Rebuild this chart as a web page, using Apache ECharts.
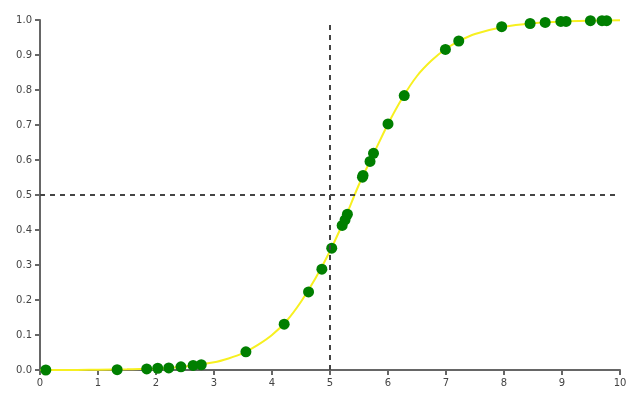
<!DOCTYPE html>
<html>
<head>
<meta charset="utf-8">
<script src="https://cdn.jsdelivr.net/npm/echarts@6/dist/echarts.min.js"></script>
<style>html,body{margin:0;padding:0;background:#fff}#c{width:640px;height:400px}</style>
</head>
<body>
<div id="c"></div>
<script>
// Fitted curve
const curveX = [0, 0.5, 1, 1.5, 2, 2.5, 3, 3.25, 3.5, 3.75, 4, 4.25, 4.5, 4.75, 5, 5.25, 5.5, 5.75, 6, 6.25, 6.5, 6.75, 7, 7.25, 7.5, 8, 8.5, 9, 9.5, 10];
const curveY = [0.000, 0.000, 0.001, 0.002, 0.004, 0.010, 0.022, 0.033, 0.048, 0.071, 0.100, 0.140, 0.195, 0.262, 0.340, 0.430, 0.530, 0.617, 0.703, 0.778, 0.840, 0.884, 0.918, 0.942, 0.960, 0.981, 0.991, 0.996, 0.998, 0.999];
// Observed points
const pointX = [0.10, 1.33, 1.84, 2.03, 2.22, 2.43, 2.64, 2.78, 3.55, 4.21, 4.63, 4.86, 5.03, 5.21, 5.26, 5.30, 5.56, 5.57, 5.69, 5.75, 6.00, 6.28, 6.99, 7.22, 7.96, 8.45, 8.71, 8.98, 9.07, 9.49, 9.69, 9.77];
const pointY = [0.000, 0.001, 0.003, 0.005, 0.006, 0.009, 0.013, 0.015, 0.052, 0.131, 0.223, 0.288, 0.348, 0.413, 0.429, 0.445, 0.551, 0.556, 0.596, 0.619, 0.703, 0.784, 0.916, 0.940, 0.981, 0.990, 0.993, 0.996, 0.996, 0.998, 0.998, 0.998];
// Reference lines
const refX = 5;
const refY = 0.5;
const refXTop = 0.99;
const xTicks = [0, 1, 2, 3, 4, 5, 6, 7, 8, 9, 10];
const yTicks = [0, 0.1, 0.2, 0.3, 0.4, 0.5, 0.6, 0.7, 0.8, 0.9, 1.0];

const chart = echarts.init(document.getElementById('c'), null, {renderer: 'canvas'});
const axisCommon = {
  axisLine: {show: true, onZero: false, lineStyle: {color: '#666', width: 2}},
  axisTick: {show: true, length: 5, lineStyle: {color: '#666', width: 2}},
  splitLine: {show: false},
  axisLabel: {color: '#444', fontSize: 10, fontFamily: 'DejaVu Sans'}
};
chart.setOption({
  animation: false,
  grid: {left: 40, right: 20, top: 20, bottom: 30, containLabel: false},
  xAxis: Object.assign({type: 'value', min: xTicks[0], max: xTicks[xTicks.length - 1], interval: 1}, axisCommon,
    {axisLabel: Object.assign({}, axisCommon.axisLabel, {margin: 8})}),
  yAxis: Object.assign({type: 'value', min: yTicks[0], max: yTicks[yTicks.length - 1], interval: 0.1}, axisCommon,
    {axisLabel: Object.assign({}, axisCommon.axisLabel, {margin: 8, formatter: v => v.toFixed(1)})}),
  series: [
    {
      type: 'line',
      data: curveX.map((x, i) => [x, curveY[i]]),
      smooth: 0.3,
      showSymbol: false,
      lineStyle: {color: '#f7f020', width: 2},
      z: 2,
      markLine: {
        silent: true,
        symbol: 'none',
        label: {show: false},
        lineStyle: {color: '#444', type: [5, 5], width: 2},
        data: [
          [{coord: [refX, 0]}, {coord: [refX, refXTop]}],
          [{coord: [xTicks[0], refY]}, {coord: [xTicks[xTicks.length - 1], refY]}]
        ]
      }
    },
    {
      type: 'scatter',
      data: pointX.map((x, i) => [x, pointY[i]]),
      symbolSize: 11,
      itemStyle: {color: '#007f00', opacity: 1},
      z: 3
    }
  ]
});
</script>
</body>
</html>
